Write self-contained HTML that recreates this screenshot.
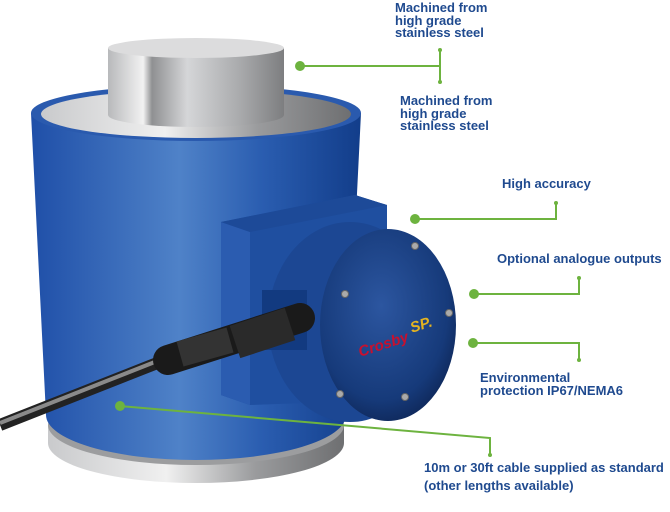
<!DOCTYPE html>
<html><head><meta charset="utf-8"><style>
html,body{margin:0;padding:0;background:#fff;}
svg{display:block}
text{font-family:"Liberation Sans",sans-serif;font-weight:bold;font-size:13px;fill:#1f4a8f}
</style></head><body>
<svg width="670" height="512" viewBox="0 0 670 512" xmlns="http://www.w3.org/2000/svg">
<defs>
<linearGradient id="blue" x1="0" x2="1" y1="0" y2="0">
<stop offset="0" stop-color="#1f4fa8"/><stop offset="0.45" stop-color="#4f82c8"/><stop offset="0.7" stop-color="#2a5db0"/><stop offset="1" stop-color="#123d8a"/>
</linearGradient>
<linearGradient id="steel" x1="0" x2="1" y1="0" y2="0">
<stop offset="0" stop-color="#b8b9bb"/><stop offset="0.2" stop-color="#f2f2f2"/><stop offset="0.25" stop-color="#8f9092"/><stop offset="0.45" stop-color="#d5d6d8"/><stop offset="0.75" stop-color="#a9aaac"/><stop offset="1" stop-color="#7d7e80"/>
</linearGradient>
<linearGradient id="base" x1="0" x2="1" y1="0" y2="0">
<stop offset="0" stop-color="#c9cacc"/><stop offset="0.4" stop-color="#f0f0f0"/><stop offset="0.7" stop-color="#9a9b9d"/><stop offset="1" stop-color="#6e6f71"/>
</linearGradient>
<radialGradient id="face" cx="0.45" cy="0.4" r="0.7">
<stop offset="0" stop-color="#2c56a0"/><stop offset="0.7" stop-color="#163a7a"/><stop offset="1" stop-color="#0b1f4a"/>
</radialGradient>
</defs>
<path d="M48,425 L48,443 A148,40 0 0 0 344,443 L344,425 Z" fill="url(#base)"/>
<ellipse cx="196" cy="425" rx="148" ry="40" fill="#9c9d9f"/>
<path d="M31,113 L46,415 A150,45 0 0 0 346,415 L361,113 Z" fill="url(#blue)"/>
<ellipse cx="196" cy="113" rx="165" ry="28" fill="#2a5aae"/>
<ellipse cx="196" cy="114" rx="155" ry="24" fill="url(#base)"/>
<path d="M108,48 L108,115 A88,12 0 0 0 284,115 L284,48 Z" fill="url(#steel)"/>
<ellipse cx="196" cy="48" rx="88" ry="10" fill="#dcdcdd"/>
<polygon points="221,222 355,195 387,205 387,400 250,405 221,395" fill="#1f4fa0"/>
<polygon points="221,222 250,232 250,405 221,395" fill="#2b5cb0"/>
<polygon points="221,222 355,195 387,205 250,232" fill="#1d4a98"/>
<ellipse cx="350" cy="322" rx="82" ry="100" fill="#1c4793"/>
<rect x="262" y="290" width="45" height="60" fill="#123a80"/>
<ellipse cx="388" cy="325" rx="68" ry="96" fill="url(#face)"/>
<g fill="#aaa" stroke="#666" stroke-width="1">
<circle cx="415" cy="246" r="3.5"/><circle cx="345" cy="294" r="3.5"/><circle cx="449" cy="313" r="3.5"/>
<circle cx="340" cy="394" r="3.5"/><circle cx="405" cy="397" r="3.5"/></g>
<text x="356" y="350" transform="rotate(-18 380 340)" style="fill:#c8102e;font-style:italic;font-size:15px">Crosby</text>
<text x="410" y="330" transform="rotate(-18 420 325)" style="fill:#e4b320;font-style:italic;font-size:15px">SP.</text>
<path d="M0,425 L170,358" stroke="#222" stroke-width="12"/>
<path d="M0,423 L170,356" stroke="#8a8a8a" stroke-width="4"/>
<path d="M168,360 L300,318" stroke="#1a1a1a" stroke-width="30" stroke-linecap="round"/>
<path d="M180,354 L230,340" stroke="#333" stroke-width="26"/>
<path d="M235,342 L290,324" stroke="#2a2a2a" stroke-width="34"/>
<g stroke="#6db33f" stroke-width="2" fill="none">
<path d="M300,66 H440 M440,50 V82"/>
<path d="M415,219 H556 V203"/>
<path d="M474,294 H579 V278"/>
<path d="M473,343 H579 V360"/>
<path d="M120,406 L490,438 V455"/>
</g>
<g fill="#6db33f">
<circle cx="300" cy="66" r="5"/><circle cx="440" cy="50" r="2"/><circle cx="440" cy="82" r="2"/>
<circle cx="415" cy="219" r="5"/><circle cx="556" cy="203" r="2"/>
<circle cx="474" cy="294" r="5"/><circle cx="579" cy="278" r="2"/>
<circle cx="473" cy="343" r="5"/><circle cx="579" cy="360" r="2"/>
<circle cx="120" cy="406" r="5"/><circle cx="490" cy="455" r="2"/>
</g>
<text x="395" y="12">Machined from</text>
<text x="395" y="25">high grade</text>
<text x="395" y="37">stainless steel</text>
<text x="400" y="105">Machined from</text>
<text x="400" y="118">high grade</text>
<text x="400" y="130">stainless steel</text>
<text x="502" y="188">High accuracy</text>
<text x="497" y="263">Optional analogue outputs</text>
<text x="480" y="382">Environmental</text>
<text x="480" y="395">protection IP67/NEMA6</text>
<text x="424" y="472">10m or 30ft cable supplied as standard</text>
<text x="424" y="490">(other lengths available)</text>
</svg>
</body></html>
